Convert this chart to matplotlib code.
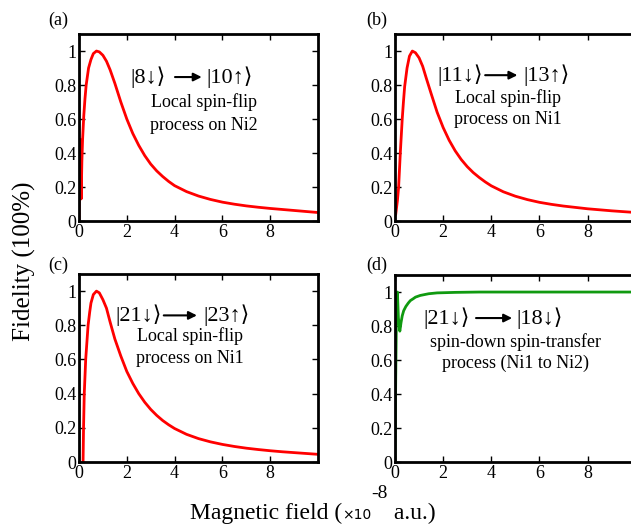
import numpy as np
import matplotlib
matplotlib.use("Agg")
import matplotlib.pyplot as plt

plt.rcParams['font.family'] = ['Liberation Serif', 'DejaVu Sans']
plt.rcParams['mathtext.fontset'] = 'stix'

# values
xa = [0, 0.03, 0.05, 0.07, 0.09, 0.12, 0.15, 0.2, 0.25, 0.3, 0.4, 0.5, 0.6, 0.73,
      0.85, 1.0, 1.15, 1.3, 1.5, 1.75, 2.0, 2.25, 2.5, 2.75, 3.0, 3.25, 3.5, 3.75,
      4.0, 4.5, 5.0, 5.5, 6.0, 6.5, 7.0, 7.5, 8.0, 8.5, 9.0, 9.5, 10]
ya = [0, 0.3, 0.48, 0.25, 0.13, 0.35, 0.48, 0.62, 0.72, 0.8, 0.9, 0.95, 0.985, 1.0,
      0.995, 0.975, 0.94, 0.89, 0.81, 0.7, 0.6, 0.515, 0.445, 0.385, 0.335, 0.295,
      0.262, 0.233, 0.208, 0.173, 0.147, 0.127, 0.111, 0.099, 0.089, 0.081, 0.074,
      0.068, 0.062, 0.056, 0.05]

xb = [0.03, 0.1, 0.15, 0.22, 0.3, 0.35, 0.4, 0.5, 0.6, 0.72, 0.85, 1.0, 1.15, 1.3,
      1.5, 1.75, 2.0, 2.25, 2.5, 2.75, 3.0, 3.25, 3.5, 3.75, 4.0, 4.5, 5.0, 5.5, 6.0,
      6.5, 7.0, 7.5, 8.0, 8.5, 9.0, 9.5, 10]
yb = [0.04, 0.12, 0.2, 0.4, 0.6, 0.7, 0.79, 0.9, 0.97, 1.0, 0.99, 0.96, 0.91, 0.84,
      0.75, 0.64, 0.55, 0.475, 0.413, 0.362, 0.32, 0.285, 0.256, 0.23, 0.207, 0.172,
      0.146, 0.126, 0.11, 0.098, 0.088, 0.08, 0.072, 0.066, 0.06, 0.055, 0.05]

xc = [0.17, 0.19, 0.22, 0.28, 0.33, 0.38, 0.45, 0.5, 0.6, 0.73, 0.85, 1.0, 1.15,
      1.3, 1.5, 1.75, 2.0, 2.25, 2.5, 2.75, 3.0, 3.25, 3.5, 3.75, 4.0, 4.5, 5.0,
      5.5, 6.0, 6.5, 7.0, 7.5, 8.0, 8.5, 9.0, 9.5, 10]
yc = [0, 0.2, 0.4, 0.6, 0.7, 0.8, 0.88, 0.93, 0.98, 1.0, 0.99, 0.95, 0.9, 0.82,
      0.72, 0.62, 0.53, 0.46, 0.4, 0.35, 0.308, 0.273, 0.243, 0.218, 0.196, 0.162,
      0.137, 0.118, 0.103, 0.091, 0.081, 0.073, 0.066, 0.06, 0.055, 0.05, 0.045]

xd = [0, 0.03, 0.055, 0.08, 0.1, 0.14, 0.2, 0.25, 0.3, 0.36, 0.45, 0.55, 0.64,
      0.75, 0.85, 1.05, 1.4, 1.75, 2.5, 3.5, 5, 7, 10]
yd = [0, 0.5, 0.8, 0.92, 1.0, 0.85, 0.77, 0.82, 0.86, 0.89, 0.915, 0.935, 0.95,
      0.96, 0.97, 0.98, 0.99, 0.995, 0.998, 1.0, 1.0, 1.0, 1.0]

xticks = [0, 2, 4, 6, 8]
yticks = [0, 0.2, 0.4, 0.6, 0.8, 1]
ytick_labels = ["0", "0.2", "0.4", "0.6", "0.8", "1"]

panels = [
    dict(x=xa, y=ya, color='#ff0000', pos=[0.1252, 0.5806, 0.3788, 0.3548],
         tag='(a)', tagpos=(0.092, 0.962),
         left='|8↓⟩', right='|10↑⟩', ky=0.77, kl=0.213, arr=(0.39, 0.525), kr=0.531,
         lines=['Local spin-flip', 'process on Ni2'], lx=0.523, ly=[0.636, 0.513]),
    dict(x=xb, y=yb, color='#ff0000', pos=[0.626, 0.5806, 0.3815, 0.3548],
         tag='(b)', tagpos=(0.597, 0.962),
         left='|11↓⟩', right='|13↑⟩', ky=0.78, kl=0.175, arr=(0.363, 0.52), kr=0.533,
         lines=['Local spin-flip', 'process on Ni1'], lx=0.469, ly=[0.658, 0.545]),
    dict(x=xc, y=yc, color='#ff0000', pos=[0.1252, 0.1233, 0.3788, 0.3567],
         tag='(c)', tagpos=(0.092, 0.497),
         left='|21↓⟩', right='|23↑⟩', ky=0.78, kl=0.151, arr=(0.343, 0.505), kr=0.519,
         lines=['Local spin-flip', 'process on Ni1'], lx=0.464, ly=[0.67, 0.553]),
    dict(x=xd, y=yd, color='#109a10', pos=[0.626, 0.1233, 0.3815, 0.3548],
         tag='(d)', tagpos=(0.597, 0.497),
         left='|21↓⟩', right='|18↓⟩', ky=0.77, kl=0.117, arr=(0.325, 0.498), kr=0.504,
         lines=['spin-down spin-transfer', 'process (Ni1 to Ni2)'], lx=0.5, ly=[0.642, 0.53]),
]

fig = plt.figure(figsize=(6.31, 5.27), dpi=100)

for i, p in enumerate(panels):
    ax = fig.add_axes(p['pos'])
    ax.plot(p['x'], p['y'], color=p['color'], lw=2)
    ax.set_xlim(0, 10)
    ax.set_ylim(0, 1.1)
    ax.set_xticks(xticks)
    ax.set_yticks(yticks)
    ax.set_yticklabels(ytick_labels)
    ax.tick_params(direction='in', top=True, right=(i % 2 == 0), length=4, width=1,
                   labelsize=13, pad=2)
    for s in ax.spines.values():
        s.set_linewidth(2)
    ax.text(p['kl'], p['ky'], p['left'], transform=ax.transAxes, fontsize=16,
            va='center', ha='left')
    ax.text(p['kr'], p['ky'], p['right'], transform=ax.transAxes, fontsize=16,
            va='center', ha='left')
    ax.annotate('', xy=(p['arr'][1], p['ky']), xytext=(p['arr'][0], p['ky']),
                xycoords='axes fraction',
                arrowprops=dict(arrowstyle='-|>', lw=1.5, color='k', mutation_scale=12))
    for txt, yy in zip(p['lines'], p['ly']):
        ax.text(p['lx'], yy, txt, transform=ax.transAxes, fontsize=13,
                ha='center', va='center')
    fig.text(p['tagpos'][0], p['tagpos'][1], p['tag'], fontsize=13,
             ha='center', va='center')

fig.text(0.038, 0.504, 'Fidelity (100%)', rotation=90, fontsize=18,
         ha='center', va='center')

# x label built from pieces: serif text, small sans "x10", superscript "-8"
W, H = 631.0, 527.0
renderer = fig.canvas.get_renderer()
xpos = 190.0
base = 8.0
pieces = [('Magnetic field (', 17, None, 0), ('×10', 10, 'DejaVu Sans', 0),
          ('-8', 14, None, 21), (' a.u.)', 17, None, 0)]
for txt, size, fam, dy in pieces:
    kw = {}
    if fam:
        kw['family'] = fam
    t = fig.text(xpos / W, (base + dy) / H, txt, fontsize=size, ha='left',
                 va='baseline', **kw)
    xpos += t.get_window_extent(renderer).width

fig.savefig('out.png', dpi=100)
